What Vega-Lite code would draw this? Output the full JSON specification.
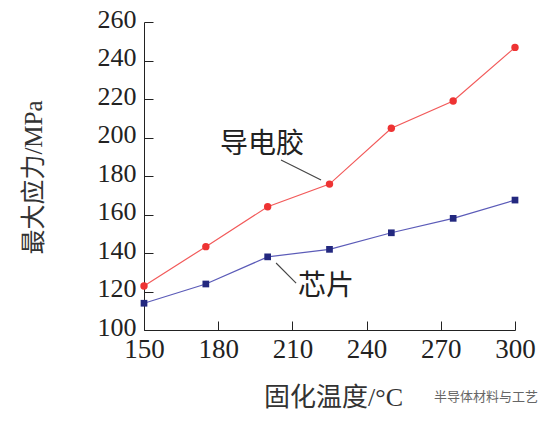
{
  "$schema": "https://vega.github.io/schema/vega-lite/v6.json",
  "autosize": {"type": "none"},
  "padding": {"left": 144, "top": 22, "right": 41, "bottom": 91},
  "width": 371,
  "height": 308,
  "background": "white",
  "config": {
    "view": {"stroke": null},
    "font": "Liberation Serif, Noto Sans CJK SC",
    "axis": {"grid": false, "domainColor": "#222", "tickColor": "#222", "labelColor": "#222", "titleColor": "#333", "labelFont": "Liberation Serif", "titleFont": "Liberation Serif, Noto Sans CJK SC", "titleFontWeight": "normal", "labelOverlap": false, "labelFlush": false, "labelBound": false, "tickSize": -9},
    "axisX": {"labelFontSize": 27, "labelPadding": 15, "titleFontSize": 26, "titleX": 189, "titleY": 67, "titleBaseline": "middle", "titleAnchor": "middle", "titleAlign": "center"},
    "axisY": {"labelFontSize": 26, "labelPadding": 17, "labelOffset": -3, "titleFontSize": 25, "titleX": -111, "titleY": 155, "titleBaseline": "middle", "titleAlign": "center", "titleAngle": -90}
  },
  "datasets": {
    "series": [
      {"temp": 150, "stress": 122.9, "material": "导电胶"},
      {"temp": 175, "stress": 143.3, "material": "导电胶"},
      {"temp": 200, "stress": 164, "material": "导电胶"},
      {"temp": 225, "stress": 175.8, "material": "导电胶"},
      {"temp": 250, "stress": 204.8, "material": "导电胶"},
      {"temp": 275, "stress": 219, "material": "导电胶"},
      {"temp": 300, "stress": 246.8, "material": "导电胶"},
      {"temp": 150, "stress": 113.9, "material": "芯片"},
      {"temp": 175, "stress": 123.9, "material": "芯片"},
      {"temp": 200, "stress": 138, "material": "芯片"},
      {"temp": 225, "stress": 141.9, "material": "芯片"},
      {"temp": 250, "stress": 150.5, "material": "芯片"},
      {"temp": 275, "stress": 158, "material": "芯片"},
      {"temp": 300, "stress": 167.5, "material": "芯片"}
    ],
    "labels": [
      {"label": "导电胶", "lx": 197.7, "ly": 196, "x1": 205.4, "y1": 188.3, "x2": 221.6, "y2": 177.9},
      {"label": "芯片", "lx": 223.6, "ly": 122.3, "x1": 203.4, "y1": 134.8, "x2": 211.5, "y2": 124.4}
    ],
    "mark": [
      {"text": "半导体材料与工艺", "wx": 288.3, "wy": 65.2}
    ]
  },
  "layer": [
    {
      "data": {"name": "series"},
      "mark": {"type": "line", "strokeWidth": 1.2},
      "encoding": {
        "x": {"field": "temp", "type": "quantitative", "scale": {"domain": [150, 300], "nice": false}, "axis": {"values": [150, 180, 210, 240, 270, 300], "title": "固化温度/°C"}},
        "y": {"field": "stress", "type": "quantitative", "scale": {"domain": [100, 260], "nice": false, "zero": false}, "axis": {"values": [100, 120, 140, 160, 180, 200, 220, 240, 260], "title": "最大应力/MPa"}},
        "color": {"field": "material", "type": "nominal", "scale": {"domain": ["导电胶", "芯片"], "range": ["#f25a5a", "#5b5bb8"]}, "legend": null}
      }
    },
    {
      "data": {"name": "series"},
      "transform": [{"filter": "datum.material === '导电胶'"}],
      "mark": {"type": "point", "shape": "circle", "filled": true, "size": 55, "color": "#ee3333", "opacity": 1},
      "encoding": {
        "x": {"field": "temp", "type": "quantitative", "axis": {"values": [150, 180, 210, 240, 270, 300], "title": "固化温度/°C"}},
        "y": {"field": "stress", "type": "quantitative", "axis": {"values": [100, 120, 140, 160, 180, 200, 220, 240, 260], "title": "最大应力/MPa"}}
      }
    },
    {
      "data": {"name": "series"},
      "transform": [{"filter": "datum.material === '芯片'"}],
      "mark": {"type": "point", "shape": "square", "filled": true, "size": 45, "color": "#23287f", "opacity": 1},
      "encoding": {
        "x": {"field": "temp", "type": "quantitative", "axis": {"values": [150, 180, 210, 240, 270, 300], "title": "固化温度/°C"}},
        "y": {"field": "stress", "type": "quantitative", "axis": {"values": [100, 120, 140, 160, 180, 200, 220, 240, 260], "title": "最大应力/MPa"}}
      }
    },
    {
      "data": {"name": "labels"},
      "mark": {"type": "rule", "color": "#444", "strokeWidth": 1.1},
      "encoding": {
        "x": {"field": "x1", "type": "quantitative", "axis": {"values": [150, 180, 210, 240, 270, 300], "title": "固化温度/°C"}},
        "y": {"field": "y1", "type": "quantitative", "axis": {"values": [100, 120, 140, 160, 180, 200, 220, 240, 260], "title": "最大应力/MPa"}},
        "x2": {"field": "x2"},
        "y2": {"field": "y2"}
      }
    },
    {
      "data": {"name": "labels"},
      "mark": {"type": "text", "fontSize": 28, "color": "#222", "font": "Noto Sans CJK SC", "align": "center", "baseline": "middle"},
      "encoding": {
        "x": {"field": "lx", "type": "quantitative", "axis": {"values": [150, 180, 210, 240, 270, 300], "title": "固化温度/°C"}},
        "y": {"field": "ly", "type": "quantitative", "axis": {"values": [100, 120, 140, 160, 180, 200, 220, 240, 260], "title": "最大应力/MPa"}},
        "text": {"field": "label"}
      }
    },
    {
      "data": {"name": "mark"},
      "mark": {"type": "text", "fontSize": 13, "color": "#666", "font": "Noto Sans CJK SC", "align": "center", "baseline": "middle", "clip": false},
      "encoding": {
        "x": {"field": "wx", "type": "quantitative", "axis": {"values": [150, 180, 210, 240, 270, 300], "title": "固化温度/°C"}},
        "y": {"field": "wy", "type": "quantitative", "axis": {"values": [100, 120, 140, 160, 180, 200, 220, 240, 260], "title": "最大应力/MPa"}},
        "text": {"field": "text"}
      }
    }
  ]
}
